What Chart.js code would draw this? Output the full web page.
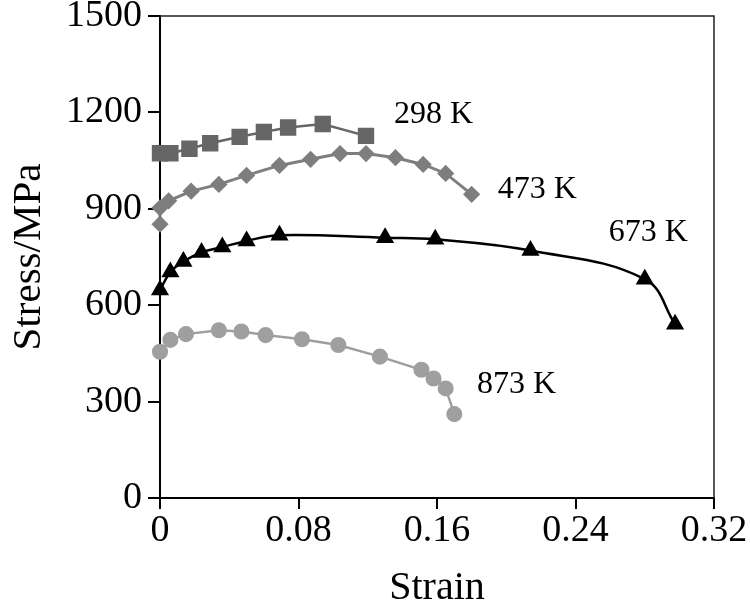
<!DOCTYPE html>
<html>
<head>
<meta charset="utf-8">
<script src="https://cdn.jsdelivr.net/npm/chart.js@4.4.1/dist/chart.umd.min.js"></script>
<style>
  html, body { margin: 0; padding: 0; background: #fff; }
</style>
</head>
<body>
<canvas id="myChart" width="750" height="612"></canvas>
<script>
// values
const strain298 = [0, 0.006, 0.017, 0.029, 0.046, 0.060, 0.074, 0.094, 0.119];
const stress298 = [1073, 1073, 1087, 1104, 1124, 1139, 1153, 1164, 1127];

const strain473 = [0, 0, 0.005, 0.018, 0.034, 0.050, 0.069, 0.087, 0.104, 0.119, 0.136, 0.152, 0.165, 0.180];
const stress473 = [852, 903, 925, 955, 976, 1004, 1035, 1054, 1072, 1072, 1059, 1038, 1010, 945];

const strain673 = [0, 0.006, 0.0135, 0.024, 0.036, 0.050, 0.069, 0.130, 0.159, 0.214, 0.280, 0.2975];
const stress673 = [647, 703, 736, 764, 781, 800, 818, 810, 805, 770, 681, 541];

const strain873 = [0, 0.006, 0.015, 0.034, 0.047, 0.061, 0.082, 0.103, 0.127, 0.151, 0.158, 0.165, 0.170];
const stress873 = [455, 492, 510, 522, 518, 507, 494, 476, 440, 399, 372, 341, 261];

const xTicks = [0, 0.08, 0.16, 0.24, 0.32];
const yTicks = [0, 300, 600, 900, 1200, 1500];

const seriesNames = ['298 K', '473 K', '673 K', '873 K'];
const labelStrain = [0.158, 0.218, 0.282, 0.206];
const labelStress = [1194, 960, 827, 354];

const serif = "'Liberation Serif', 'Times New Roman', serif";
Chart.defaults.font.family = serif;
Chart.defaults.color = '#000';

function points(xs, ys) {
    return xs.map((x, i) => ({ x: x, y: ys[i] }));
}

// box around the plot plus the temperature labels
const framePlugin = {
    id: 'frame',
    beforeDatasetsDraw(chart) {
        const a = chart.chartArea;
        const ctx = chart.ctx;
        ctx.save();
        ctx.strokeStyle = '#222';
        ctx.lineWidth = 1.5;
        ctx.beginPath();
        ctx.moveTo(a.left, a.top);
        ctx.lineTo(a.right, a.top);
        ctx.lineTo(a.right, a.bottom);
        ctx.stroke();
        ctx.restore();
    },
    afterDatasetsDraw(chart) {
        const ctx = chart.ctx;
        const xs = chart.scales.x, ys = chart.scales.y;
        ctx.save();
        ctx.fillStyle = '#000';
        ctx.font = '32px ' + serif;
        ctx.textAlign = 'center';
        ctx.textBaseline = 'middle';
        seriesNames.forEach((name, i) => {
            ctx.fillText(name, xs.getPixelForValue(labelStrain[i]), ys.getPixelForValue(labelStress[i]));
        });
        ctx.restore();
    }
};

let ctx = document.getElementById('myChart');
let myChart = new Chart(ctx, {
    type: 'line',
    data: {
        datasets: [{
            label: seriesNames[0],
            data: points(strain298, stress298),
            borderColor: '#666',
            backgroundColor: '#666',
            borderWidth: 2.5,
            pointStyle: 'rect',
            pointRadius: 9.8,
            tension: 0
        }, {
            label: seriesNames[1],
            data: points(strain473, stress473),
            borderColor: '#7e7e7e',
            backgroundColor: '#7e7e7e',
            borderWidth: 3,
            pointStyle: 'rectRot',
            pointRadius: 6.5,
            tension: 0
        }, {
            label: seriesNames[2],
            data: points(strain673, stress673),
            borderColor: '#000',
            backgroundColor: '#000',
            borderWidth: 2.5,
            pointStyle: 'triangle',
            pointRadius: 8,
            tension: 0.4
        }, {
            label: seriesNames[3],
            data: points(strain873, stress873),
            borderColor: '#9f9f9f',
            backgroundColor: '#9f9f9f',
            borderWidth: 2.5,
            pointStyle: 'circle',
            pointRadius: 6.8,
            tension: 0
        }]
    },
    options: {
        responsive: false,
        animation: false,
        clip: false,
        layout: { padding: { top: 16, right: 36, left: 0, bottom: 0 } },
        plugins: {
            legend: { display: false },
            tooltip: { enabled: false }
        },
        elements: { point: { borderWidth: 0 } },
        scales: {
            x: {
                type: 'linear',
                min: xTicks[0],
                max: xTicks[xTicks.length - 1],
                afterFit: (scale) => {
                    scale.height = 114;
                    scale.paddingLeft = 0;
                    scale.paddingRight = 0;
                },
                afterBuildTicks: (scale) => { scale.ticks = xTicks.map(v => ({ value: v })); },
                ticks: {
                    font: { size: 38 },
                    padding: -1,
                    maxRotation: 0,
                    callback: (v) => String(+v.toFixed(2))
                },
                grid: { drawOnChartArea: false, drawTicks: true, tickLength: 11, color: '#000', lineWidth: 2 },
                border: { color: '#000', width: 2 },
                title: { display: true, text: 'Strain', font: { size: 40 }, padding: { top: 0, bottom: 0 } }
            },
            y: {
                min: yTicks[0],
                max: yTicks[yTicks.length - 1],
                afterFit: (scale) => {
                    scale.width = 160;
                    scale.paddingTop = 0;
                    scale.paddingBottom = 0;
                },
                afterBuildTicks: (scale) => { scale.ticks = yTicks.map(v => ({ value: v })); },
                ticks: { font: { size: 38 }, padding: 6, callback: (v) => String(v) },
                grid: { drawOnChartArea: false, drawTicks: true, tickLength: 12, color: '#000', lineWidth: 2 },
                border: { color: '#000', width: 2 },
                title: { display: true, text: 'Stress/MPa', font: { size: 41 }, padding: { top: 5, bottom: 0 } }
            }
        }
    },
    plugins: [framePlugin]
});
</script>
</body>
</html>
